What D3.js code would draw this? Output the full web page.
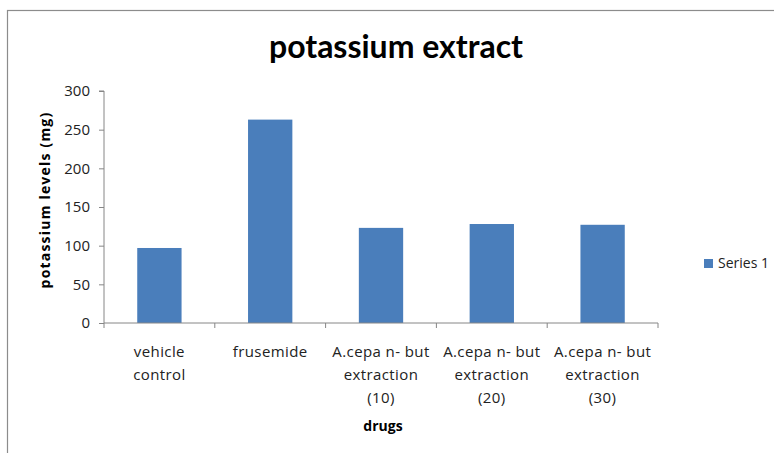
<!DOCTYPE html>
<html><head><meta charset="utf-8">
<script src="https://cdn.jsdelivr.net/npm/d3@7"></script>
<style>body{margin:0;background:#fff}svg{display:block}</style>
</head><body>
<script>
const categories = [["vehicle","control"],["frusemide"],["A.cepa n- but","extraction","(10)"],["A.cepa n- but","extraction","(20)"],["A.cepa n- but","extraction","(30)"]];
const values = [97, 263, 123, 128, 127];
const yTicks = [0, 50, 100, 150, 200, 250, 300];
const seriesName = "Series 1";
const title = "potassium extract";
const yLabel = "potassium levels (mg)";
const xLabel = "drugs";

(function () {
const W = 774, H = 453;
const font = "'Open Sans', 'Noto Sans', sans-serif";
const svg = d3.select("body").append("svg").attr("width", W).attr("height", H);
svg.append("rect").attr("x", 7.5).attr("y", 10.5).attr("width", W).attr("height", H)
  .attr("fill", "#fff").attr("stroke", "#8c8c8c").attr("stroke-width", 1.2);

const pl = 104, pr = 658, pt = 91, pb = 323;
const x = d3.scaleBand().domain(d3.range(categories.length)).range([pl, pr]).paddingInner(0.6).paddingOuter(0.3);
const xc = d3.scaleBand().domain(d3.range(categories.length)).range([pl, pr]);
const y = d3.scaleLinear().domain([0, 300]).range([pb, pt]);

svg.append("text").attr("x", 396).attr("y", 58).attr("text-anchor", "middle")
  .attr("font-family", "Lato, 'Open Sans', sans-serif").attr("font-weight", "bold").attr("font-size", 32)
  .attr("fill", "#000").text(title);

// y axis
const ya = svg.append("g").attr("transform", `translate(${pl},0)`)
  .call(d3.axisLeft(y).tickValues(yTicks).tickSize(5).tickPadding(9));
ya.select(".domain").attr("stroke", "#868686").attr("d", `M-5,${pt}H0V${pb}`);
ya.selectAll(".tick line").attr("stroke", "#868686");
ya.selectAll(".tick text").attr("font-family", font).attr("font-size", 15).attr("fill", "#222");

// bars
svg.selectAll("rect.bar").data(values).join("rect").attr("class", "bar")
  .attr("x", (d, i) => x(i)).attr("width", x.bandwidth())
  .attr("y", d => y(d)).attr("height", d => pb - y(d)).attr("fill", "#4a7ebb");

// x axis
const xa = svg.append("g").attr("transform", `translate(0,${pb})`);
xa.append("line").attr("x1", pl).attr("x2", pr).attr("stroke", "#868686");
const bounds = d3.range(categories.length + 1).map(i => i < categories.length ? xc(i) : pr);
xa.selectAll("line.tk").data(bounds).join("line").attr("class", "tk")
  .attr("x1", d => d).attr("x2", d => d).attr("y1", 0).attr("y2", 5).attr("stroke", "#868686");

categories.forEach((lines, i) => {
  const t = svg.append("text").attr("text-anchor", "middle").attr("font-family", font)
    .attr("font-size", 15).attr("letter-spacing", 0.4).attr("fill", "#222");
  lines.forEach((l, j) => t.append("tspan").attr("x", xc(i) + xc.bandwidth() / 2).attr("y", 357 + j * 23).text(l));
});

svg.append("text").attr("x", 383).attr("y", 431).attr("text-anchor", "middle")
  .attr("font-family", font).attr("font-weight", "bold").attr("font-size", 14).text(xLabel);

svg.append("text").attr("transform", "translate(50,200) rotate(-90)").attr("text-anchor", "middle")
  .attr("font-family", font).attr("font-weight", "bold").attr("font-size", 14)
  .attr("letter-spacing", 1.2).text(yLabel);

// legend
svg.append("rect").attr("x", 704).attr("y", 259).attr("width", 9).attr("height", 9).attr("fill", "#4a7ebb");
svg.append("text").attr("x", 718).attr("y", 268).attr("font-family", font).attr("font-size", 14)
  .attr("fill", "#222").text(seriesName);
})();
</script>
</body></html>
